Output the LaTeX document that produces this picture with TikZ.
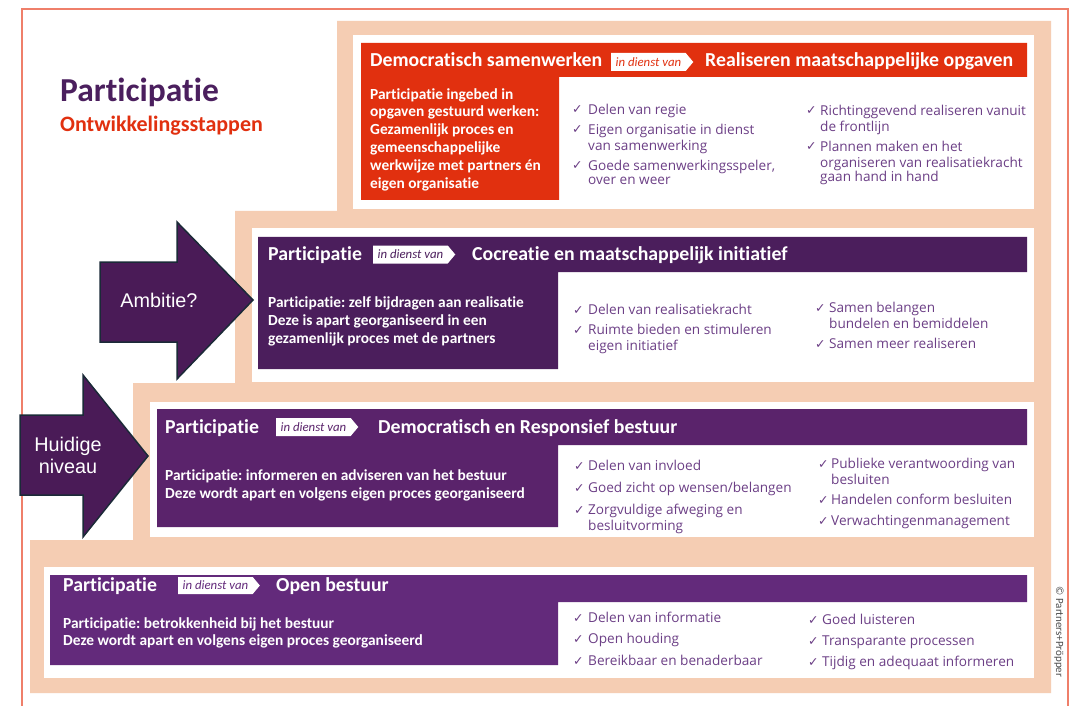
\documentclass[tikz,border=0pt]{standalone}
\usepackage{fontspec}
\setmainfont{Carlito}[Ligatures=NoCommon]
\newfontfamily\listfont{Open Sans}
\newfontfamily\arrowfont{Liberation Sans}
\newfontfamily\symfont{DejaVu Sans}
\usetikzlibrary{shapes.symbols}
\frenchspacing
\definecolor{peach}{HTML}{F5CDB3}
\definecolor{framec}{HTML}{EF7F6A}
\definecolor{redc}{HTML}{E1300F}
\definecolor{purA}{HTML}{4B1E5C}
\definecolor{purB}{HTML}{5A236B}
\definecolor{purC}{HTML}{632A7B}
\definecolor{titlec}{HTML}{4B1F5E}
\definecolor{listc}{HTML}{6C3F86}
\definecolor{arrowfill}{HTML}{4A1B57}
\definecolor{arrowline}{HTML}{1B2A38}
\newcommand\ckitem[5]{%
  \node[ckmark] (#1m) at (#2,#4) {✓};
  \node[cktext] (#1) at (#3,#4) {\strut #5};}
\begin{document}
\frenchspacing
\begin{tikzpicture}[x=1pt,y=-1pt,
  hdr/.style={anchor=base west, inner sep=0, text=white, font=\fontsize{19.8}{21}\selectfont\bfseries},
  body/.style={anchor=north west, inner sep=0, align=left, text=white, font=\fontsize{15.4}{#1}\selectfont\bfseries, yshift={0.7*#1}},
  body/.default=18,
  ckmark/.style={anchor=base west, inner sep=0, text=listc, font=\symfont\fontsize{12.5}{14}\selectfont},
  cktext/.style={anchor=north west, inner sep=0, align=left, text=listc, font=\listfont\fontsize{13.6}{14.5}\selectfont, yshift=10.15pt},
  tag/.style={signal, signal to=east, signal pointer angle=100, fill=white, anchor=west, inner xsep=4.5pt, inner ysep=0pt, minimum height=18pt, font=\fontsize{12.8}{13}\selectfont\itshape},
  bigarrow/.style={fill=arrowfill, draw=arrowline, line width=1.5pt, line join=miter},
  arrowlbl/.style={text=white, font=\arrowfont\fontsize{19.8}{22}\selectfont, align=center, inner sep=0}
]
\useasboundingbox (0,0) rectangle (1072,706);
\fill[white] (0,0) rectangle (1072,706);
% outer frame
\draw[framec, line width=1.2pt] (22,706) -- (22,9) -- (1068,9) -- (1068,706);
% stepped peach background
\fill[peach] (337,21) -- (1051,21) -- (1051,693) -- (30,693) -- (30,540) -- (133,540)
  -- (133,383) -- (235,383) -- (235,211) -- (337,211) -- cycle;
% white panels
\fill[white] (353,35) rectangle (1034,209);
\fill[white] (252,228) rectangle (1034,382);
\fill[white] (150,402) rectangle (1034,537);
\fill[white] (44,567) rectangle (1034,678);
% coloured L shapes
\fill[redc] (361,43) -- (1027,43) -- (1027,77) -- (559,77) -- (559,200) -- (361,200) -- cycle;
\fill[purA] (258,237) -- (1027,237) -- (1027,272) -- (558,272) -- (558,369) -- (258,369) -- cycle;
\fill[purB] (157,409) -- (1027,409) -- (1027,445) -- (558,445) -- (558,527) -- (157,527) -- cycle;
\fill[purC] (50,575) -- (1027,575) -- (1027,602) -- (558,602) -- (558,665) -- (50,665) -- cycle;

% title
\node[anchor=base west, inner sep=0, text=titlec, font=\fontsize{33.5}{35}\selectfont\bfseries] (title) at (60,102) {Participatie};
\node[anchor=base west, inner sep=0, text=redc, font=\fontsize{22}{24}\selectfont\bfseries] (subtitle) at (60,132) {Ontwikkelingsstappen};

% arrows
\draw[bigarrow] (100,262) -- (177,262) -- (177,222) -- (253,300) -- (177,379) -- (177,342) -- (100,342) -- cycle;
\node[arrowlbl] (ambitie) at (159,300) {Ambitie?};
\draw[bigarrow] (20,415) -- (83,415) -- (83,375) -- (148,456) -- (83,537) -- (83,495) -- (20,495) -- cycle;
\node[arrowlbl] (huidig) at (68,455) {Huidige\\niveau};

% tier 1
\node[hdr] (h1a) at (370,67) {Democratisch samenwerken};
\node[tag, text=redc] (t1) at (611,62) {in dienst van};
\node[hdr] (h1b) at (705,67) {Realiseren maatschappelijke opgaven};
\node[body=17.8] (b1) at (370,99) {\strut Participatie ingebed in\\opgaven gestuurd werken:\\Gezamenlijk proces en\\gemeenschappelijke\\werkwijze met partners én\\eigen organisatie};
\ckitem{c11}{572}{588}{114}{Delen van regie}
\ckitem{c12}{572}{588}{134}{Eigen organisatie in dienst\\van samenwerking}
\ckitem{c13}{572}{588}{170}{Goede samenwerkingsspeler,\\over en weer}
\ckitem{c14}{806}{820}{115}{Richtinggevend realiseren vanuit\\de frontlijn}
\ckitem{c15}{806}{820}{151}{Plannen maken en het\\organiseren van realisatiekracht\\gaan hand in hand}

% tier 2
\node[hdr] (h2a) at (268,260) {Participatie};
\node[tag, text=purA] (t2) at (373,254.5) {in dienst van};
\node[hdr] (h2b) at (472,260) {Cocreatie en maatschappelijk initiatief};
\node[body=18.3] (b2) at (268,307) {\strut Participatie: zelf bijdragen aan realisatie\\Deze is apart georganiseerd in een\\gezamenlijk proces met de partners};
\ckitem{c21}{573}{588}{314}{Delen van realisatiekracht}
\ckitem{c22}{573}{588}{334}{Ruimte bieden en stimuleren\\eigen initiatief}
\ckitem{c23}{815}{829}{312}{Samen belangen\\bundelen en bemiddelen}
\ckitem{c24}{815}{829}{348}{Samen meer realiseren}

% tier 3
\node[hdr] (h3a) at (165,433) {Participatie};
\node[tag, text=purB] (t3) at (276,427) {in dienst van};
\node[hdr] (h3b) at (378,433) {Democratisch en Responsief bestuur};
\node[body] (b3) at (165,480) {\strut Participatie: informeren en adviseren van het bestuur\\Deze wordt apart en volgens eigen proces georganiseerd};
\ckitem{c31}{574}{588}{470}{Delen van invloed}
\ckitem{c32}{574}{588}{492}{Goed zicht op wensen/belangen}
\ckitem{c33}{574}{588}{514}{Zorgvuldige afweging en\\besluitvorming}
\ckitem{c34}{818}{831}{468}{Publieke verantwoording van\\besluiten}
\ckitem{c35}{818}{831}{504}{Handelen conform besluiten}
\ckitem{c36}{818}{831}{525}{Verwachtingenmanagement}

% tier 4
\node[hdr] (h4a) at (63,591) {Participatie};
\node[tag, text=purC, minimum height=17pt] (t4) at (178,585.5) {in dienst van};
\node[hdr] (h4b) at (276,591) {Open bestuur};
\node[body=17] (b4) at (63,628) {\strut Participatie: betrokkenheid bij het bestuur\\Deze wordt apart en volgens eigen proces georganiseerd};
\ckitem{c41}{573}{588}{622}{Delen van informatie}
\ckitem{c42}{573}{588}{643}{Open houding}
\ckitem{c43}{573}{588}{665}{Bereikbaar en benaderbaar}
\ckitem{c44}{808}{822}{624}{Goed luisteren}
\ckitem{c45}{808}{822}{645}{Transparante processen}
\ckitem{c46}{808}{822}{666}{Tijdig en adequaat informeren}

% copyright
\node[rotate=-90, inner sep=0, text=black!70, font=\fontsize{11}{12}\selectfont] (copy) at (1059,632) {© Partners+Pröpper};
\end{tikzpicture}
\end{document}
